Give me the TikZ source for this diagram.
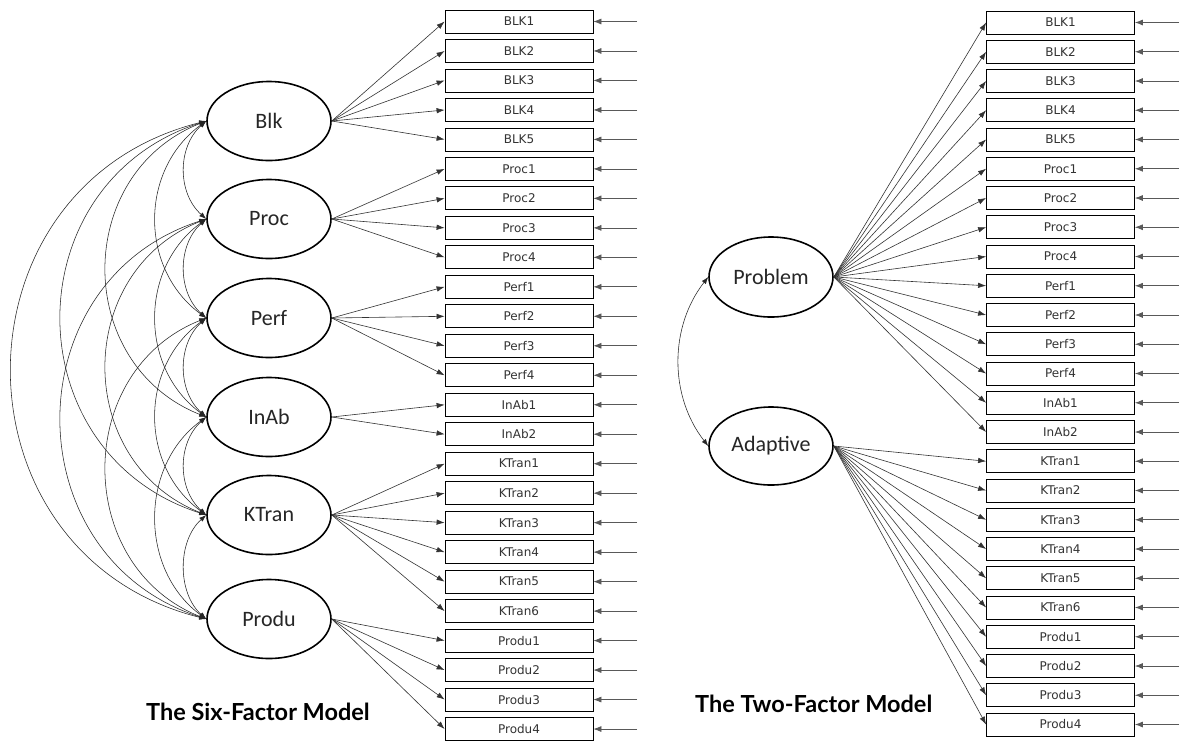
\documentclass[tikz,border=0pt]{standalone}
\usepackage{fontspec}
\setmainfont{DejaVu Sans}
\newfontfamily\ellfont{Carlito}
\newfontfamily\titlefont{Lato}
\usetikzlibrary{shapes.geometric,arrows.meta}
\begin{document}
\begin{tikzpicture}[x=1pt,y=-1pt,
  latent/.style={draw, ellipse, line width=1.6pt, minimum width=124pt, minimum height=79pt, inner sep=0pt, font=\ellfont\fontsize{22}{22}\selectfont, text=black!85},
  obs/.style={draw, rectangle, line width=0.8pt, minimum width=148pt, minimum height=23pt, inner sep=0pt, font=\fontsize{12}{12}\selectfont, text=black!80},
  load/.style={-{Latex[length=8pt,width=5.5pt]}, line width=0.6pt, draw=black!80},
  err/.style={-{Latex[length=8pt,width=6pt]}, line width=0.7pt, draw=black!65},
  cov/.style={{Latex[length=7pt,width=5pt]}-{Latex[length=7pt,width=5pt]}, line width=0.55pt, draw=black!85},
  ttl/.style={font=\titlefont\bfseries\fontsize{23.5}{23.5}\selectfont, inner sep=0pt}]
\useasboundingbox (0,0) rectangle (1181,740);
\fill[white] (0,0) rectangle (1181,740);
% ---------- Six-factor model ----------
\foreach \lab/\yy [count=\i] in {Blk/121,Proc/219,Perf/318,InAb/417,KTran/515,Produ/619}
  \node[latent] (f\i) at (269,\yy) {\lab};
\foreach \lab [count=\i] in {BLK1,BLK2,BLK3,BLK4,BLK5,Proc1,Proc2,Proc3,Proc4,Perf1,Perf2,Perf3,Perf4,InAb1,InAb2,KTran1,KTran2,KTran3,KTran4,KTran5,KTran6,Produ1,Produ2,Produ3,Produ4}{
  \pgfmathsetmacro\yy{21.5+29.48*(\i-1)}
  \node[obs] (L\i) at (519,\yy) {\lab};
  \coordinate (LE\i) at (637,\yy);
  \draw[err] (LE\i) -- (L\i.east);
}
\foreach \f/\a/\b in {1/1/5,2/6/9,3/10/13,4/14/15,5/16/21,6/22/25}
  \foreach \k in {\a,...,\b}
    \draw[load] (f\f.east) -- (L\k.west);
\foreach \i in {1,...,5}{
  \pgfmathtruncatemacro\ii{\i+1}
  \foreach \j in {\ii,...,6}{
    \pgfmathtruncatemacro\d{\j-\i}
    \pgfmathsetmacro\cc{{29,67,133,193,259}[\d-1]}
    \pgfmathsetmacro\ee{{26,49,53,62,65}[\d-1]}
    \draw[cov] (f\i.west) .. controls +(-\cc,\ee) and +(-\cc,-\ee) .. (f\j.west);
  }
}
\node[ttl, anchor=base west] (t1) at (146,720) {The Six-Factor Model};
% ---------- Two-factor model ----------
\node[latent, minimum height=80pt] (prob) at (771,277) {Problem};
\node[latent, minimum height=78pt] (adap) at (771,446) {Adaptive};
\foreach \lab [count=\i] in {BLK1,BLK2,BLK3,BLK4,BLK5,Proc1,Proc2,Proc3,Proc4,Perf1,Perf2,Perf3,Perf4,InAb1,InAb2,KTran1,KTran2,KTran3,KTran4,KTran5,KTran6,Produ1,Produ2,Produ3,Produ4}{
  \pgfmathsetmacro\yy{22.5+29.25*(\i-1)}
  \node[obs] (R\i) at (1060.5,\yy) {\lab};
  \coordinate (RE\i) at (1179,\yy);
  \draw[err] (RE\i) -- (R\i.east);
}
\foreach \k in {1,...,15} \draw[load] (prob.east) -- (R\k.west);
\foreach \k in {16,...,25} \draw[load] (adap.east) -- (R\k.west);
\draw[cov] (prob.west) .. controls +(-39,50) and +(-39,-50) .. (adap.west);
\node[ttl, anchor=base west] (t2) at (695,712) {The Two-Factor Model};
\end{tikzpicture}
\end{document}
